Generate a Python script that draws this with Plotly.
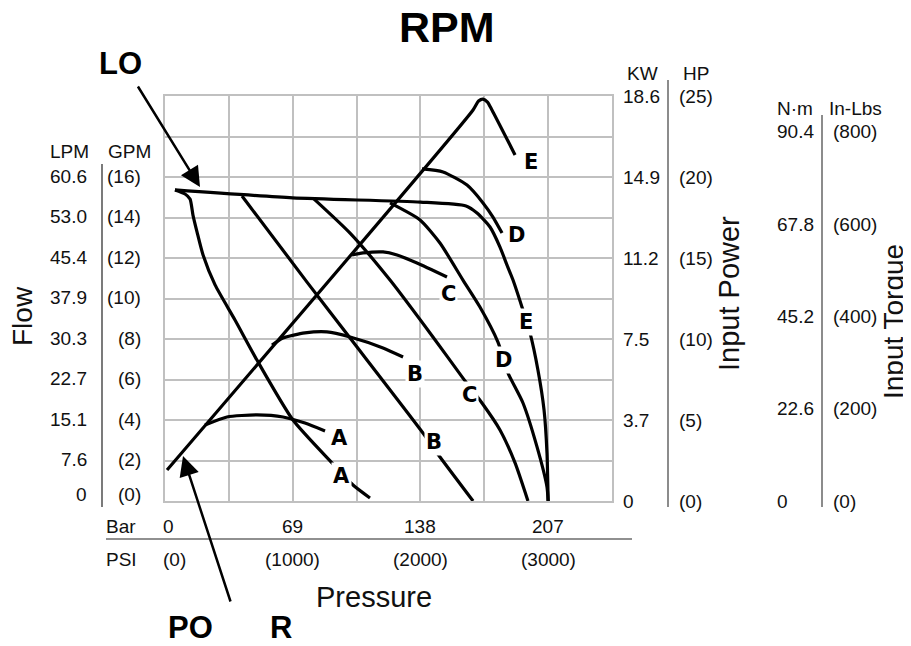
import plotly.graph_objects as go

# ---------------- data (pressure in PSI, flow in GPM) ----------------
flow_E_psi = [78, 1000, 2000, 2357, 2443, 2545, 2623, 2678, 2725, 2795, 2858, 2920, 2968, 2991, 3000]
flow_E_gpm = [15.36, 14.97, 14.76, 14.57, 14.22, 13.53, 12.54, 11.65, 10.91, 9.58, 8.30, 6.47, 4.49, 2.37, 0.0]

flow_D_psi = [1762, 1997, 2153, 2333, 2466, 2607, 2686, 2803, 2913, 2991, 3000]
flow_D_gpm = [14.72, 13.88, 12.74, 10.91, 9.58, 7.85, 6.32, 4.84, 2.67, 0.69, 0.0]

flow_C_psi = [1159, 1449, 1762, 2098, 2333, 2482, 2623, 2741, 2842]
flow_C_gpm = [14.96, 13.23, 10.91, 8.10, 6.07, 4.84, 3.51, 1.88, 0.0]

flow_B_psi = [603, 1112, 1449, 2020, 2130, 2412]
flow_B_gpm = [15.06, 10.81, 8.05, 3.36, 2.37, 0.0]

flow_A_psi = [78, 157, 196, 219, 251, 298, 392, 548, 720, 1002, 1308, 1472, 1605]
flow_A_gpm = [15.36, 15.16, 14.91, 14.12, 13.28, 12.15, 10.67, 8.94, 6.96, 4.00, 1.88, 0.79, 0.15]

power_E_psi = [16, 2412, 2455, 2490, 2525, 2560, 2741]
power_E_gpm = [1.53, 19.31, 19.75, 19.85, 19.70, 19.31, 17.09]

power_D_psi = [2012, 2177, 2365, 2490, 2568, 2639]
power_D_gpm = [16.40, 16.25, 15.60, 14.72, 14.02, 13.23]

power_C_psi = [1464, 1550, 1707, 1817, 1973, 2208]
power_C_gpm = [12.15, 12.25, 12.30, 12.15, 11.75, 11.06]

power_B_psi = [838, 924, 1096, 1268, 1449, 1707, 1864]
power_B_gpm = [7.70, 8.05, 8.30, 8.35, 8.10, 7.56, 7.11]

power_A_psi = [313, 485, 720, 924, 1096, 1253]
power_A_gpm = [3.75, 4.15, 4.25, 4.15, 3.85, 3.46]

curve_letters = ["A", "B", "C", "D", "E"]
power_label_psi = [1370, 1954, 2216, 2756, 2866]
power_label_gpm = [3.11, 6.27, 10.22, 13.14, 16.74]
flow_label_psi = [1382, 2106, 2388, 2647, 2827]
flow_label_gpm = [1.23, 2.91, 5.23, 6.96, 8.84]

# tick labels
gpm_ticks = [0, 2, 4, 6, 8, 10, 12, 14, 16]
gpm_labels = ["(0)", "(2)", "(4)", "(6)", "(8)", "(10)", "(12)", "(14)", "(16)"]
lpm_labels = ["0", "7.6", "15.1", "22.7", "30.3", "37.9", "45.4", "53.0", "60.6"]

hp_ticks = [0, 5, 10, 15, 20, 25]
hp_labels = ["(0)", "(5)", "(10)", "(15)", "(20)", "(25)"]
kw_labels = ["0", "3.7", "7.5", "11.2", "14.9", "18.6"]

inlbs_ticks = [0, 200, 400, 600, 800]
inlbs_labels = ["(0)", "(200)", "(400)", "(600)", "(800)"]
nm_labels = ["0", "22.6", "45.2", "67.8", "90.4"]

psi_ticks = [0, 1000, 2000, 3000]
psi_labels = ["(0)", "(1000)", "(2000)", "(3000)"]
bar_labels = ["0", "69", "138", "207"]

# ---------------- layout helpers (screen pixels; page body adds an 8px margin) ----------------
OFF = 8
W, H = 911 - OFF, 646 - OFF
L, R, T, B = 165, 612, 96, 501


def px(x):
    return (x - L) / (R - L)


def py(y):
    return (B - y) / (B - T)


FONT = "Liberation Sans, Arial, sans-serif"
TICK = dict(family=FONT, size=19, color="#111")
LETTER = dict(family="DejaVu Sans, sans-serif", size=21, color="black", weight=900)

fig = go.Figure()

curves = [
    (flow_E_psi, flow_E_gpm), (flow_D_psi, flow_D_gpm), (flow_C_psi, flow_C_gpm),
    (flow_B_psi, flow_B_gpm), (flow_A_psi, flow_A_gpm),
    (power_E_psi, power_E_gpm), (power_D_psi, power_D_gpm), (power_C_psi, power_C_gpm),
    (power_B_psi, power_B_gpm), (power_A_psi, power_A_gpm),
]
for xs, ys in curves:
    fig.add_trace(go.Scatter(x=xs, y=ys, mode="lines",
                             line=dict(color="black", width=3.2, shape="spline", smoothing=0.6),
                             showlegend=False, hoverinfo="skip"))

# invisible traces to register secondary scales
fig.add_trace(go.Scatter(x=[None], y=[None], yaxis="y2", showlegend=False))
fig.add_trace(go.Scatter(x=[None], y=[None], yaxis="y3", showlegend=False))

ann = []


def text(x, y, t, font, xref="paper", yref="paper", xa="center", ya="middle", **kw):
    d = dict(x=x, y=y, xref=xref, yref=yref, text=t, showarrow=False, font=font,
             xanchor=xa, yanchor=ya)
    d.update(kw)
    ann.append(d)


# curve letters
for lt, x, y in zip(curve_letters, power_label_psi, power_label_gpm):
    text(x, y, lt, LETTER, "x", "y", bgcolor="white", borderpad=1)
for lt, x, y in zip(curve_letters, flow_label_psi, flow_label_gpm):
    text(x, y, lt, LETTER, "x", "y", bgcolor="white", borderpad=1)

# left flow scale
for g, gl, ll in zip(gpm_ticks, gpm_labels, lpm_labels):
    shift = 7 if g == 0 else 1
    text(px(89), g, ll, TICK, "paper", "y", xa="right", yshift=shift)
    text(px(143), g, gl, TICK, "paper", "y", xa="right", yshift=shift)
text(px(69), py(151), "LPM", TICK)
text(px(129), py(151), "GPM", TICK)

# power scale
for h, hl, kl in zip(hp_ticks, hp_labels, kw_labels):
    text(px(621), h, kl, TICK, "paper", "y2", xa="left")
    text(px(677), h, hl, TICK, "paper", "y2", xa="left")
text(px(642), py(73), "KW", TICK)
text(px(696), py(73), "HP", TICK)

# torque scale
for t, tl, nl in zip(inlbs_ticks, inlbs_labels, nm_labels):
    text(px(775), t, nl, TICK, "paper", "y3", xa="left")
    text(px(831), t, tl, TICK, "paper", "y3", xa="left")
text(px(795), py(108), "N·m", TICK)
text(px(855), py(108), "In-Lbs", TICK)

# pressure scale
for p, bl, pl in zip(psi_ticks, bar_labels, psi_labels):
    if p == 0:
        text(p, py(526), bl, TICK, "x", "paper", xa="left", xshift=-4)
        text(p, py(559), pl, TICK, "x", "paper", xa="left", xshift=-4)
    else:
        text(p, py(526), bl, TICK, "x", "paper")
        text(p, py(559), pl, TICK, "x", "paper")
text(px(104), py(526), "Bar", TICK, xa="left")
text(px(104), py(559), "PSI", TICK, xa="left")

# axis titles
TITLE = dict(family=FONT, size=29, color="#111")
text(px(374), py(597), "Pressure", TITLE)
text(px(22), py(316), "Flow", dict(family=FONT, size=28, color="#111"), textangle=-90)
text(px(729), py(294), "Input Power", TITLE, textangle=-90)
text(px(893), py(322), "Input Torque", dict(family=FONT, size=28, color="#111"), textangle=-90)

# big bold labels
text(px(447), py(27), "<b>RPM</b>", dict(family=FONT, size=43, color="black"))
text(px(120), py(64), "<b>LO</b>", dict(family=FONT, size=31, color="black"))
text(px(190), py(627), "<b>PO</b>", dict(family=FONT, size=31, color="black"))
text(px(281), py(627), "<b>R</b>", dict(family=FONT, size=31, color="black"))

# arrows
ann.append(dict(x=px(200), y=py(187), xref="paper", yref="paper", ax=-63, ay=-102, text="",
                showarrow=True, arrowhead=2, arrowsize=1.6, arrowwidth=2.5, arrowcolor="black"))
ann.append(dict(x=px(183), y=py(456), xref="paper", yref="paper", ax=48, ay=147, text="",
                showarrow=True, arrowhead=2, arrowsize=1.6, arrowwidth=2.5, arrowcolor="black"))

shapes = [
    dict(type="line", xref="paper", yref="paper", x0=px(102), x1=px(102), y0=py(164), y1=py(507),
         line=dict(color="#222", width=1.2)),
    dict(type="line", xref="paper", yref="paper", x0=px(668), x1=px(668), y0=py(80), y1=py(507),
         line=dict(color="#666", width=1.5)),
    dict(type="line", xref="paper", yref="paper", x0=px(822), x1=px(822), y0=py(115), y1=py(507),
         line=dict(color="#666", width=1.5)),
    dict(type="line", xref="paper", yref="paper", x0=px(106), x1=px(632), y0=py(539), y1=py(539),
         line=dict(color="#222", width=1.2)),
]

GRID = "#c0c0c0"
fig.update_layout(
    width=W, height=H,
    margin=dict(l=L - OFF, r=W - (R - OFF), t=T - OFF, b=H - (B - OFF), pad=0),
    paper_bgcolor="white", plot_bgcolor="white",
    xaxis=dict(range=[0, 3500], dtick=500, tick0=0, showgrid=True, gridcolor=GRID, gridwidth=2,
               showticklabels=False, ticks="", zeroline=False, showline=True, linecolor=GRID,
               linewidth=2, mirror=True, fixedrange=True),
    yaxis=dict(range=[0, 20], dtick=2, tick0=0, showgrid=True, gridcolor=GRID, gridwidth=2,
               showticklabels=False, ticks="", zeroline=False, showline=True, linecolor=GRID,
               linewidth=2, mirror=True, fixedrange=True),
    yaxis2=dict(range=[0, 25], overlaying="y", side="right", visible=False, showgrid=False),
    yaxis3=dict(range=[0, 878], overlaying="y", side="right", visible=False, showgrid=False),
    annotations=ann,
    shapes=shapes,
    showlegend=False,
)

fig.write_html("out.html")
